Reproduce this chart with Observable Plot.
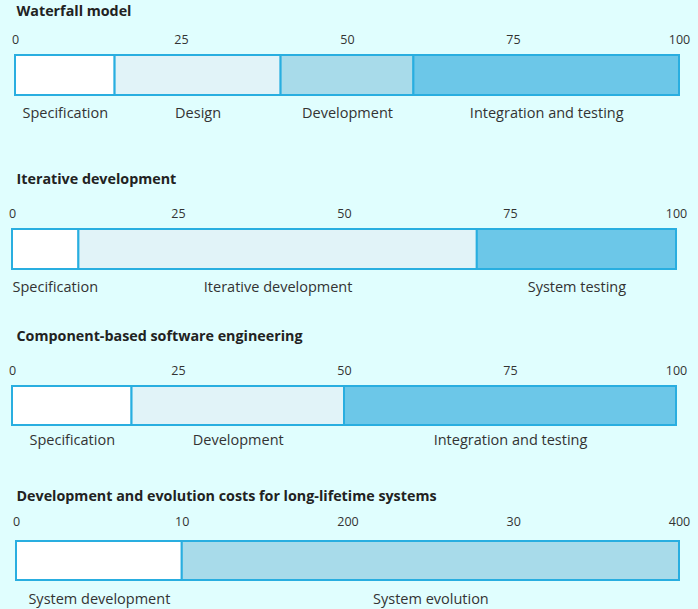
<!DOCTYPE html>
<html><head><meta charset="utf-8">
<script src="https://cdn.jsdelivr.net/npm/d3@7"></script>
<script src="https://cdn.jsdelivr.net/npm/@observablehq/plot@0.6"></script>
<style>
html,body{margin:0;padding:0;background:#e0fefe;}
#chart{position:relative;width:698px;height:609px;overflow:hidden;font-family:"Open Sans",sans-serif;}
#chart svg{position:absolute;left:0;}
</style></head><body><div id="chart"></div>
<script>
const titles = ["Waterfall model", "Iterative development", "Component-based software engineering", "Development and evolution costs for long-lifetime systems"];
const waterfallPhases = ["Specification", "Design", "Development", "Integration and testing"];
const waterfallCosts = [15, 25, 20, 40];
const iterativePhases = ["Specification", "Iterative development", "System testing"];
const iterativeCosts = [10, 60, 30];
const cbsePhases = ["Specification", "Development", "Integration and testing"];
const cbseCosts = [18, 32, 50];
const lifetimePhases = ["System development", "System evolution"];
const lifetimeCosts = [25, 75];
const tickValues = [0, 25, 50, 75, 100];
const tickLabels = ["0", "25", "50", "75", "100"];
const lifetimeTickLabels = ["0", "10", "200", "30", "400"];

const C0 = "#ffffff", C1 = "#e1f3f8", C2 = "#a8dbea", C3 = "#6cc7e8";
const LABEL_FONT = 14.5;
const panels = [
  {title: titles[0], phases: waterfallPhases, costs: waterfallCosts, ticks: tickLabels, top: 0, height: 130, ml: 15, mr: 19, mt: 55, mb: 35, titleDy: -44, tickPad: 12, labelDy: 18, fills: [C0, C1, C2, C3]},
  {title: titles[1], phases: iterativePhases, costs: iterativeCosts, ticks: tickLabels, top: 160, height: 140, ml: 12, mr: 22, mt: 69, mb: 31, titleDy: -50, tickPad: 12, labelDy: 18, fills: [C0, C1, C3]},
  {title: titles[2], phases: cbsePhases, costs: cbseCosts, ticks: tickLabels, top: 320, height: 140, ml: 12, mr: 22, mt: 66, mb: 35, titleDy: -50, tickPad: 12, labelDy: 15, fills: [C0, C1, C3]},
  {title: titles[3], phases: lifetimePhases, costs: lifetimeCosts, ticks: lifetimeTickLabels, top: 480, height: 129, ml: 16, mr: 19, mt: 61, mb: 29, titleDy: -45.5, tickPad: 16, labelDy: 19, fills: [C0, C2]}
];

// measure label widths so a label never starts left of the bar
const ctx = document.createElement("canvas").getContext("2d");
ctx.font = LABEL_FONT + "px 'Open Sans'";

const chart = document.getElementById("chart");
for (const p of panels) {
  const width = 698;
  const unit = (width - p.ml - p.mr) / 100; // px per data unit
  const rows = p.phases.map((phase, i) => ({phase, cost: p.costs[i], fill: p.fills[i]}));
  let acc = 0;
  rows.forEach(r => {
    r.x1 = acc; acc += r.cost; r.x2 = acc;
    const half = ctx.measureText(r.phase).width / 2 / unit;
    r.mid = Math.min(100 - half, Math.max(half, (r.x1 + r.x2) / 2));
  });
  const svg = Plot.plot({
    width, height: p.height,
    marginLeft: p.ml, marginRight: p.mr, marginTop: p.mt, marginBottom: p.mb,
    x: {domain: [0, 100], axis: null},
    style: {fontFamily: "'Open Sans', sans-serif", fontSize: "12px", background: "transparent", overflow: "visible", color: "#333"},
    marks: [
      Plot.barX(rows, {x1: "x1", x2: "x2", fill: "fill", stroke: "#29aee0", strokeWidth: 2}),
      Plot.axisX(tickValues, {anchor: "top", tickSize: 0, tickPadding: p.tickPad, tickFormat: d => p.ticks[tickValues.indexOf(d)], fill: "#333", fontSize: 12.5}),
      Plot.text(rows, {x: "mid", text: "phase", frameAnchor: "bottom", lineAnchor: "middle", dy: p.labelDy, fill: "#333", fontSize: LABEL_FONT}),
      Plot.text([p.title], {frameAnchor: "top-left", textAnchor: "start", lineAnchor: "middle", dx: 16 - p.ml, dy: p.titleDy, fontWeight: "bold", fontSize: 14.3, fill: "#222"})
    ]
  });
  svg.style.top = p.top + "px";
  chart.append(svg);
}
</script></body></html>
